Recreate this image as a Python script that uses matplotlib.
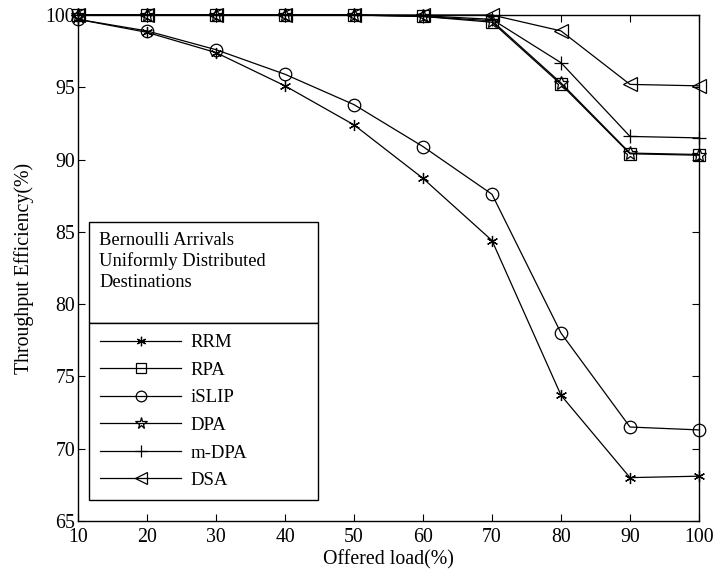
import matplotlib
matplotlib.use("Agg")
import matplotlib.pyplot as plt
from matplotlib.patches import Rectangle

plt.rcParams['font.family'] = ['Liberation Serif', 'DejaVu Serif']

load = [10, 20, 30, 40, 50, 60, 70, 80, 90, 100]
rrm = [99.7, 98.8, 97.4, 95.1, 92.4, 88.7, 84.4, 73.7, 68.0, 68.1]
rpa = [100.0, 100.0, 100.0, 100.0, 100.0, 99.9, 99.5, 95.2, 90.4, 90.3]
islip = [99.7, 98.9, 97.6, 95.9, 93.8, 90.9, 87.6, 78.0, 71.5, 71.3]
dpa = [100.0, 100.0, 100.0, 100.0, 100.0, 99.9, 99.6, 95.3, 90.45, 90.35]
mdpa = [100.0, 100.0, 100.0, 100.0, 100.0, 99.95, 99.7, 96.7, 91.6, 91.5]
dsa = [100.0, 100.0, 100.0, 100.0, 100.0, 100.0, 100.0, 98.9, 95.2, 95.1]
x_ticks = [10, 20, 30, 40, 50, 60, 70, 80, 90, 100]
y_ticks = [65, 70, 75, 80, 85, 90, 95, 100]
note_lines = ["Bernoulli Arrivals", "Uniformly Distributed", "Destinations"]

fig = plt.figure(figsize=(7.26, 5.71), dpi=100)
ax = fig.add_axes([78/726, (571-521)/571, 621/726, 506/571])

lw = 0.9
kw = dict(color='black', lw=lw, mew=0.9, clip_on=False)
ax.plot(load, rrm, marker=(6, 2, 0), ms=8, label='RRM', **kw)
ax.plot(load, rpa, marker='s', ms=9, mfc='none', label='RPA', **kw)
ax.plot(load, islip, marker='o', ms=9, mfc='none', label='iSLIP', **kw)
ax.plot(load, dpa, marker='*', ms=10, mfc='none', label='DPA', **kw)
ax.plot(load, mdpa, marker='+', ms=10, label='m-DPA', **kw)
ax.plot(load, dsa, marker='<', ms=10, mfc='none', label='DSA', **kw)

ax.set_xlim(10, 100)
ax.set_ylim(65, 100)
ax.set_xticks(x_ticks)
ax.set_yticks(y_ticks)
ax.tick_params(direction='in', length=5, width=0.8, top=True, right=True,
               labelsize=14.3)
ax.tick_params(axis='y', pad=2)
ax.tick_params(axis='x', pad=5)
for s in ax.spines.values():
    s.set_linewidth(1.0)
ax.set_xlabel('Offered load(%)', fontsize=14.3, labelpad=2)
ax.set_ylabel('Throughput Efficiency(%)', fontsize=14.3, labelpad=8)

# note box
x0 = (89-78)/621
x1 = (318-78)/621
ytop = (521-222)/506
ybot = (521-323)/506
ax.add_patch(Rectangle((x0, ybot), x1-x0, ytop-ybot, transform=ax.transAxes,
                       fill=True, facecolor='white', edgecolor='black', lw=1.0, zorder=5))
ax.text((99-78)/621, (521-232)/506, "\n".join(note_lines), transform=ax.transAxes,
        fontsize=13.3, va='top', ha='left', linespacing=1.25, zorder=6)

leg_bot = (521-497)/506
leg = ax.legend(loc='upper left', bbox_to_anchor=(x0, leg_bot, x1-x0, ybot-leg_bot),
                mode='expand', fontsize=13.5, frameon=True, fancybox=False,
                edgecolor='black', framealpha=1, handlelength=4.3, handletextpad=0.5,
                labelspacing=0.555, borderpad=0.6, borderaxespad=0, markerscale=0.85)
leg.get_frame().set_linewidth(1.0)
leg.set_zorder(7)

fig.savefig('out.png', dpi=100)
